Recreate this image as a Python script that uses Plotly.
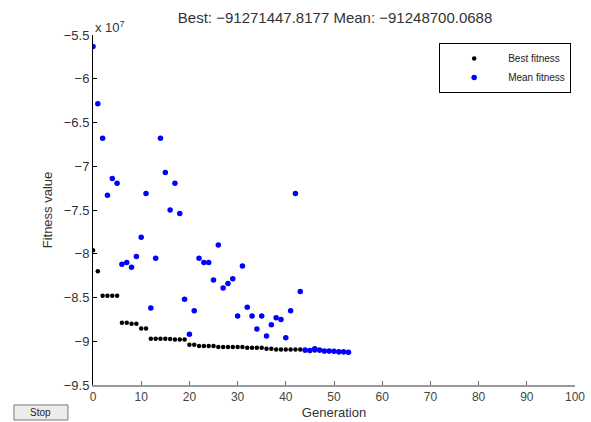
import plotly.graph_objects as go

# Values in units of 1e7
generations = list(range(0, 54))
best_fitness = [
    -7.96, -8.20, -8.48, -8.48, -8.48, -8.48, -8.79, -8.79, -8.80, -8.80,
    -8.855, -8.855, -8.97, -8.97, -8.97, -8.97, -8.975, -8.98, -8.98, -8.98,
    -9.04, -9.04, -9.055, -9.055, -9.055, -9.055, -9.065, -9.065, -9.065, -9.065,
    -9.065, -9.065, -9.075, -9.075, -9.075, -9.075, -9.085, -9.085, -9.095, -9.095,
    -9.095, -9.095, -9.095, -9.095, -9.105, -9.105, -9.105, -9.105, -9.115, -9.115,
    -9.115, -9.127, -9.127, -9.127,
]
mean_fitness = [
    -5.63, -6.285, -6.68, -7.33, -7.14, -7.195, -8.12, -8.10, -8.155, -8.03,
    -7.81, -7.31, -8.62, -8.05, -6.68, -7.07, -7.50, -7.195, -7.54, -8.52,
    -8.92, -8.65, -8.05, -8.10, -8.10, -8.30, -7.90, -8.39, -8.34, -8.285,
    -8.71, -8.14, -8.61, -8.71, -8.86, -8.71, -8.94, -8.81, -8.73, -8.75,
    -8.96, -8.65, -7.31, -8.43, -9.10, -9.105, -9.085, -9.10, -9.11, -9.11,
    -9.115, -9.12, -9.12, -9.125,
]
y_tickvals = [-5.5, -6, -6.5, -7, -7.5, -8, -8.5, -9, -9.5]
y_ticktext = ["\u22125.5", "\u22126", "\u22126.5", "\u22127", "\u22127.5", "\u22128", "\u22128.5", "\u22129", "\u22129.5"]
x_tickvals = [0, 10, 20, 30, 40, 50, 60, 70, 80, 90, 100]

title_text = "Best: \u221291271447.8177 Mean: \u221291248700.0688"

fig = go.Figure()
fig.add_trace(go.Scatter(x=generations, y=best_fitness, mode="markers", name="Best fitness",
                         marker=dict(color="black", size=4.5)))
fig.add_trace(go.Scatter(x=generations, y=mean_fitness, mode="markers", name="Mean fitness",
                         marker=dict(color="#0000ff", size=5.5)))

font = "Liberation Sans, Arial, sans-serif"
fig.update_layout(
    width=591, height=422,
    margin=dict(l=93, r=16, t=35, b=37, autoexpand=False),
    paper_bgcolor="white", plot_bgcolor="white",
    font=dict(family=font, size=12, color="#222"),
    title=dict(text=title_text, x=0.567, xanchor="center", y=0.957, yanchor="middle",
               font=dict(size=15, color="#333"), automargin=False),
    showlegend=True,
    legend=dict(x=0.992, xanchor="right", y=0.977, yanchor="top",
                bordercolor="black", borderwidth=1, bgcolor="white",
                font=dict(size=10, color="#222"), itemwidth=58, tracegroupgap=0),
    xaxis=dict(range=[0, 100], tickvals=x_tickvals, showgrid=False, zeroline=False,
               automargin=False,
               showline=True, linecolor="#999", linewidth=2, ticks="inside", ticklen=4,
               tickcolor="#666", tickfont=dict(size=12, color="#444"),
               title=dict(text="Generation", font=dict(size=13, color="#333"), standoff=4)),
    yaxis=dict(range=[-9.5, -5.5], tickvals=y_tickvals, ticktext=y_ticktext, showgrid=False,
               automargin=False,
               zeroline=False, showline=True, linecolor="black", linewidth=1, ticks="inside",
               ticklen=4, tickcolor="black", tickfont=dict(size=13, color="#333"),
               title=dict(text="Fitness value", font=dict(size=13, color="#333"), standoff=8)),
)

fig.add_annotation(text="x 10<sup>7</sup>", xref="paper", yref="paper", x=0.0, y=1.0,
                   xanchor="left", yanchor="bottom", showarrow=False,
                   font=dict(size=13, color="#333"), yshift=-2)

# Stop button
fig.add_shape(type="rect", xref="paper", yref="paper", x0=-0.164, x1=-0.052, y0=-0.057, y1=-0.100,
              line=dict(color="#777", width=1), fillcolor="#ececec")
fig.add_annotation(text="Stop", xref="paper", yref="paper", x=-0.108, y=-0.0785,
                   xanchor="center", yanchor="middle", showarrow=False,
                   font=dict(size=10, color="#222"))

fig.write_html("out.html", config={"displayModeBar": False},
               post_script="document.body.style.margin='0px';")
